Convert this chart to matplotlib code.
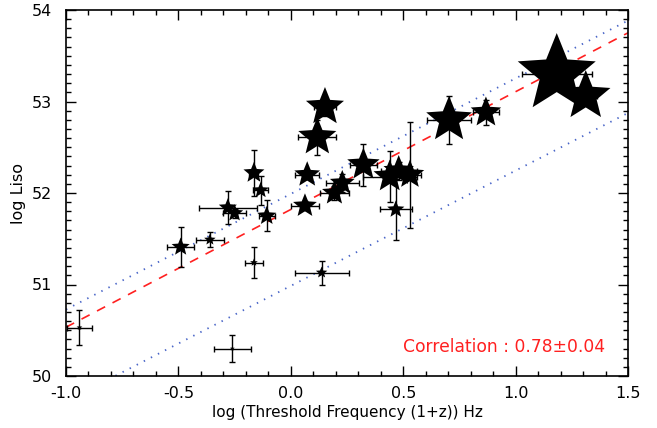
import numpy as np
import matplotlib
matplotlib.use("Agg")
from matplotlib import pyplot as plt
from matplotlib.path import Path
from matplotlib.ticker import MultipleLocator

# log threshold frequency, log Liso, errors and symbol weight for each burst
log_freq = [-0.94, -0.26, -0.49, -0.36, -0.28, -0.25, -0.164, -0.134, -0.107, -0.164,
            0.137, 0.063, 0.073, 0.118, 0.152, 0.194, 0.229, 0.323, 0.44, 0.48,
            0.53, 0.467, 0.704, 0.868, 1.183, 1.312]
log_liso = [50.53, 50.30, 51.41, 51.49, 51.84, 51.78, 52.22, 52.03, 51.75, 51.24,
            51.13, 51.86, 52.20, 52.61, 52.94, 52.00, 52.11, 52.31, 52.18, 52.24,
            52.20, 51.82, 52.80, 52.88, 53.30, 53.06]
freq_err = [0.055, 0.083, 0.061, 0.061, 0.13, 0.052, 0.02, 0.033, 0.035, 0.04,
            0.12, 0.063, 0.053, 0.084, 0.05, 0.063, 0.074, 0.06, 0.12, 0.08,
            0.05, 0.07, 0.098, 0.056, 0.156, 0.05]
liso_err = [0.19, 0.15, 0.22, 0.08, 0.18, 0.05, 0.25, 0.16, 0.17, 0.17,
            0.13, 0.05, 0.05, 0.19, 0.10, 0.08, 0.10, 0.23, 0.28, 0.10,
            0.58, 0.33, 0.26, 0.14, 0.10, 0.10]
weight = [3, 2.5, 9.5, 6, 9.5, 9, 11, 8.5, 10, 4,
          6, 12.5, 13.5, 20, 20, 13, 13, 17, 17, 16,
          15, 9, 24, 16, 41, 26]

# fit line (slope, intercept) and the two bounds
fit_line = (1.287, 51.82)
upper_line = (1.263, 51.99)
lower_line = (1.26, 50.985)

correlation = "Correlation : 0.78\u00b10.04"

# fatter five point star, like the IDL one
ang = np.pi / 2 + np.arange(10) * np.pi / 5
rad = np.where(np.arange(10) % 2 == 0, 1.0, 0.44)
star = Path(np.column_stack([rad * np.cos(ang), rad * np.sin(ang)]), closed=False)
star = Path(np.vstack([star.vertices, star.vertices[:1]]))

fig = plt.figure(figsize=(6.57, 4.28), dpi=100)
ax = fig.add_axes([66 / 657, 1 - 376 / 428, (628 - 66) / 657, (376 - 10) / 428])

xs = np.array([-1.0, 1.5])
ax.plot(xs, upper_line[0] * xs + upper_line[1], color="#4a66c8", lw=1.3,
        linestyle=(0, (0.8, 3.6)))
ax.plot(xs, lower_line[0] * xs + lower_line[1], color="#4a66c8", lw=1.3,
        linestyle=(0, (0.8, 3.6)))
ax.plot(xs, fit_line[0] * xs + fit_line[1], color="#ff2020", lw=1.2,
        linestyle=(0, (5.5, 5)))

ax.errorbar(log_freq, log_liso, xerr=freq_err, yerr=liso_err, fmt="none",
            ecolor="black", elinewidth=1.0, capsize=2.5, capthick=1.0)

# star radius in px -> marker size in points
ms = np.array(weight) * 2 / (100 / 72)
ax.scatter(log_freq, log_liso, s=ms ** 2, marker=star, color="black",
           edgecolors="none", zorder=3)

ax.text(1.398, 50.32, correlation, color="#ff2020", fontsize=12.3, ha="right", va="center")

ax.set_xlim(-1.0, 1.5)
ax.set_ylim(50, 54)
ax.xaxis.set_major_locator(MultipleLocator(0.5))
ax.xaxis.set_minor_locator(MultipleLocator(0.1))
ax.yaxis.set_major_locator(MultipleLocator(1))
ax.yaxis.set_minor_locator(MultipleLocator(0.1))
ax.xaxis.set_major_formatter(matplotlib.ticker.FormatStrFormatter("%.1f"))
ax.yaxis.set_major_formatter(matplotlib.ticker.FormatStrFormatter("%d"))
ax.tick_params(which="both", direction="in", top=True, right=True, labelsize=11.5,
               width=1.0, colors="black")
ax.tick_params(which="major", length=7)
ax.tick_params(axis="x", which="major", pad=7)
ax.tick_params(axis="y", which="major", pad=10)
ax.tick_params(which="minor", length=3.5)
for s in ax.spines.values():
    s.set_linewidth(1.2)

ax.set_xlabel("log (Threshold Frequency (1+z)) Hz", fontsize=11, labelpad=3)
ax.set_ylabel("log Liso", fontsize=11.5, labelpad=4)

fig.savefig("out.png", dpi=100)
